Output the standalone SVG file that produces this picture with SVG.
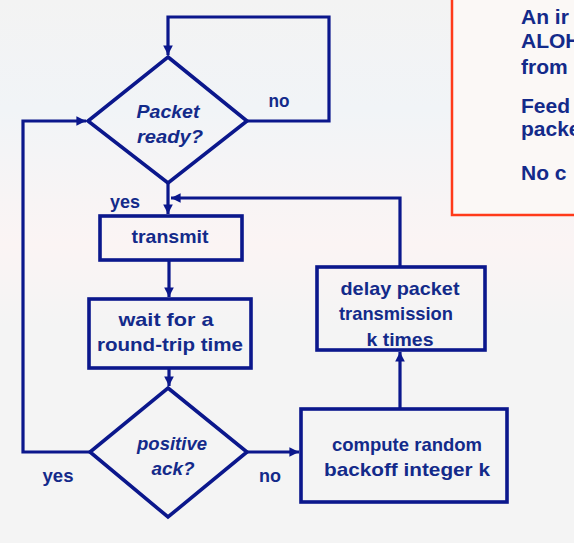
<svg xmlns="http://www.w3.org/2000/svg" width="574" height="543" viewBox="0 0 574 543">
<defs>
<linearGradient id="bg" x1="0" y1="0" x2="0" y2="1">
<stop offset="0" stop-color="#f3f3f3"/>
<stop offset="0.2" stop-color="#f1f4f7"/>
<stop offset="0.45" stop-color="#fbf4f4"/>
<stop offset="0.6" stop-color="#f4f4f4"/>
<stop offset="1" stop-color="#f4f4f4"/>
</linearGradient>
<marker id="ah" viewBox="0 0 10 10" refX="10" refY="5" markerWidth="3" markerHeight="3" orient="auto" markerUnits="strokeWidth">
<path d="M0,0 L10,5 L0,10 z" fill="#0b178c"/>
</marker>
<style>
.ln{fill:none;stroke:#0b178c;stroke-width:3.2}
.bx{fill:none;stroke:#0b178c;stroke-width:3.6}
.t{font-family:"Liberation Sans","DejaVu Sans",sans-serif;font-weight:bold;font-size:19px;fill:#132a8a;text-anchor:middle}
.ti{font-style:italic}
.note{font-family:"Liberation Sans","DejaVu Sans",sans-serif;font-weight:bold;font-size:21px;fill:#132a8a}
</style>
</defs>
<rect width="574" height="543" fill="url(#bg)"/>
<g id="note">
<rect x="452" y="-10" width="140" height="225" fill="#fbf8f6" stroke="#ff3a1a" stroke-width="2.5"/>
<text class="note" x="521" y="24">An ir</text>
<text class="note" x="521" y="48">ALOH</text>
<text class="note" x="521" y="74">from</text>
<text class="note" x="521" y="113">Feed</text>
<text class="note" x="521" y="136">packe</text>
<text class="note" x="521" y="180">No c</text>
</g>
<g id="connectors">
<path class="ln" d="M247,121 H329 V17 H168 V55" marker-end="url(#ah)"/>
<path class="ln" d="M90,452 H23 V121 H86" marker-end="url(#ah)"/>
<path class="ln" d="M168,183 V214" marker-end="url(#ah)"/>
<path class="ln" d="M400,267 V198 H171" marker-end="url(#ah)"/>
<path class="ln" d="M169,260 V297" marker-end="url(#ah)"/>
<path class="ln" d="M169,368 V386" marker-end="url(#ah)"/>
<path class="ln" d="M247,452 H299" marker-end="url(#ah)"/>
<path class="ln" d="M400,408 V352" marker-end="url(#ah)"/>
<text class="t" x="279" y="107" textLength="21" lengthAdjust="spacingAndGlyphs">no</text>
<text class="t" x="125" y="208" textLength="30" lengthAdjust="spacingAndGlyphs">yes</text>
<text class="t" x="58" y="482" textLength="31" lengthAdjust="spacingAndGlyphs">yes</text>
<text class="t" x="270" y="482" textLength="22" lengthAdjust="spacingAndGlyphs">no</text>
</g>
<g id="packet-ready">
<polygon class="bx" points="168,57 247,121 168,183 88,121"/>
<text class="t ti" x="168" y="118" textLength="63" lengthAdjust="spacingAndGlyphs">Packet</text>
<text class="t ti" x="170" y="143" textLength="66" lengthAdjust="spacingAndGlyphs">ready?</text>
</g>
<g id="transmit">
<rect class="bx" x="100" y="216" width="142" height="44"/>
<text class="t" x="170" y="243" textLength="77" lengthAdjust="spacingAndGlyphs">transmit</text>
</g>
<g id="wait">
<rect class="bx" x="89" y="299" width="162" height="69"/>
<text class="t" x="166" y="326" textLength="95" lengthAdjust="spacingAndGlyphs">wait for a</text>
<text class="t" x="170" y="351" textLength="146" lengthAdjust="spacingAndGlyphs">round-trip time</text>
</g>
<g id="positive-ack">
<polygon class="bx" points="168,388 247,452 168,517 90,452"/>
<text class="t ti" x="172" y="450" textLength="70" lengthAdjust="spacingAndGlyphs">positive</text>
<text class="t ti" x="173" y="475" textLength="43" lengthAdjust="spacingAndGlyphs">ack?</text>
</g>
<g id="compute">
<rect class="bx" x="301" y="409" width="206" height="93"/>
<text class="t" x="407" y="451" textLength="150" lengthAdjust="spacingAndGlyphs">compute random</text>
<text class="t" x="407" y="476" textLength="166" lengthAdjust="spacingAndGlyphs">backoff integer k</text>
</g>
<g id="delay">
<rect class="bx" x="317" y="267" width="168" height="83"/>
<text class="t" x="400" y="295" textLength="119" lengthAdjust="spacingAndGlyphs">delay packet</text>
<text class="t" x="396" y="320" textLength="114" lengthAdjust="spacingAndGlyphs">transmission</text>
<text class="t" x="400" y="346" textLength="67" lengthAdjust="spacingAndGlyphs">k times</text>
</g>
</svg>
